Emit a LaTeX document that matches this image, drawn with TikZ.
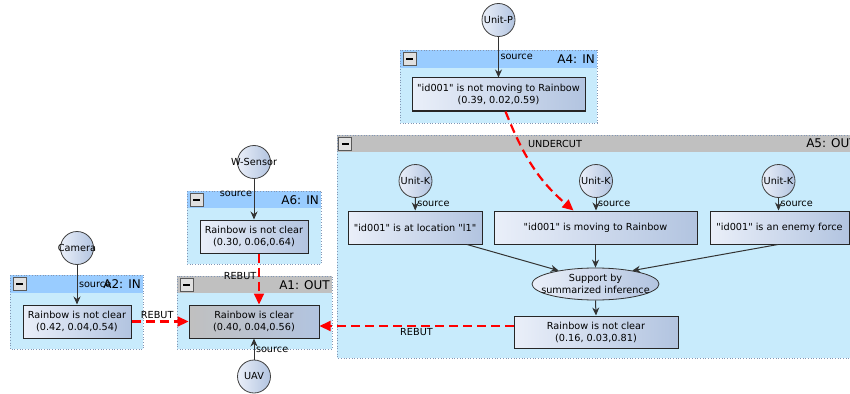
\documentclass[tikz,border=0pt]{standalone}
\usepackage{fontspec}
\setmainfont{DejaVu Sans}[Ligatures=TeXOff]
\usepackage{xcolor}
\usepackage{tikz}
\usetikzlibrary{shapes,arrows,positioning,calc,arrows.meta}

\definecolor{panelbg}{RGB}{200,235,252}
\definecolor{hdrblue}{RGB}{153,204,255}
\definecolor{hdrgray}{RGB}{192,192,192}
\definecolor{rimblue}{RGB}{130,150,180}
\definecolor{claimL}{RGB}{234,239,249}
\definecolor{claimR}{RGB}{178,196,224}
\definecolor{grayL}{RGB}{192,192,192}

\tikzset{
    every node/.style={font=\fontsize{9.7}{12}\selectfont},
    panel/.style={fill=panelbg},
    panelrim/.style={draw=rimblue, dotted, line width=0.7pt},
    hdrin/.style={fill=hdrblue},
    hdrout/.style={fill=hdrgray},
    minusbox/.style={draw=black!65, fill=black!12, line width=0.6pt, minimum width=13pt, minimum height=13pt, inner sep=0pt,
        path picture={\fill[black] ($(path picture bounding box.center)+(-3.5,-1)$) rectangle ($(path picture bounding box.center)+(3.5,1)$);}},
    paneltitle/.style={anchor=east, inner sep=1pt, font=\fontsize{12}{14}\selectfont},
    claim/.style={rectangle, draw=black!85, line width=1pt, left color=claimL, right color=claimR, align=center, minimum height=33pt, inner sep=2pt},
    agent/.style={circle, draw=black!75, line width=0.8pt, left color=claimL, right color=claimR, minimum size=33pt, inner sep=0pt},
    infer/.style={ellipse, draw=black!80, line width=0.8pt, left color=claimL, right color=claimR, minimum width=127pt, minimum height=32pt, inner sep=0pt},
    src/.style={draw=black!80, line width=1pt, -{Stealth[length=8pt,width=7pt]}},
    rebut/.style={draw=red, line width=2.2pt, dash pattern=on 9pt off 5pt, -{Triangle[length=11pt,width=10pt]}},
    edgelbl/.style={inner sep=1.5pt},
}

\begin{document}
\begin{tikzpicture}[x=1pt,y=-1pt]
    \useasboundingbox (0,0) rectangle (850,393);
    \clip (0,0) rectangle (850,393);

    % A2 panel
    \fill[panel] (10,275) rectangle (143,349);
    \fill[hdrin] (10,275) rectangle (143,293);
    \draw[panelrim] (10,275) rectangle (143,349);
    \node[minusbox] (mA2) at (19.5,284) {};
    \node[paneltitle] (tA2) at (142,284.5) {A2: IN};
    % A6 panel
    \fill[panel] (187,191) rectangle (321,264);
    \fill[hdrin] (187,191) rectangle (321,208);
    \draw[panelrim] (187,191) rectangle (321,264);
    \node[minusbox] (mA6) at (196.5,200) {};
    \node[paneltitle] (tA6) at (320,200) {A6: IN};
    % A1 panel
    \fill[panel] (177,276) rectangle (332,349);
    \fill[hdrout] (177,276) rectangle (332,293);
    \draw[panelrim] (177,276) rectangle (332,349);
    \node[minusbox] (mA1) at (186.5,285) {};
    \node[paneltitle] (tA1) at (331,285) {A1: OUT};
    % A4 panel
    \fill[panel] (400,50) rectangle (597,123);
    \fill[hdrin] (400,50) rectangle (597,68);
    \draw[panelrim] (400,50) rectangle (597,123);
    \node[minusbox] (mA4) at (409.5,59) {};
    \node[paneltitle] (tA4) at (596,59) {A4: IN};
    % A5 panel
    \fill[panel] (337,135) rectangle (862,358);
    \fill[hdrout] (337,135) rectangle (862,152);
    \draw[panelrim] (337,135) rectangle (862,358);
    \node[minusbox] (mA5) at (345,143.5) {};
    \node[paneltitle] (tA5) at (858,143.5) {A5: OUT};
    \node (ucut) at (555,143.5) {UNDERCUT};

    % claims
    \node[claim, minimum width=108pt] (a2c) at (77,321.5) {Rainbow is not clear\\(0.42, 0.04,0.54)};
    \node[claim, minimum width=108pt] (a6c) at (254,236.5) {Rainbow is not clear\\(0.30, 0.06,0.64)};
    \node[claim, minimum width=130pt, left color=grayL] (a1c) at (254,321.5) {Rainbow is clear\\(0.40, 0.04,0.56)};
    \node[claim, minimum width=173pt] (a4c) at (498.5,94.5) {"id001" is not moving to Rainbow\\(0.39, 0.02,0.59)};
    \node[claim, minimum width=134pt] (loc) at (415,227.5) {"id001" is at location "l1"};
    \node[claim, minimum width=203pt] (mov) at (595.5,227.5) {"id001" is moving to Rainbow};
    \node[claim, minimum width=139pt] (enemy) at (779.5,227.5) {"id001" is an enemy force};
    \node[infer, label={[align=center]center:Support by\\summarized inference}] (inf) at (595.5,284) {};
    \node[claim, minimum width=164pt, minimum height=32pt] (res) at (596,332) {Rainbow is not clear\\(0.16, 0.03,0.81)};

    % sources
    \node[agent, label=center:Camera] (cam) at (77,248) {};
    \node[agent, label=center:W-Sensor] (wsens) at (254,162) {};
    \node[agent, label=center:UAV] (uav) at (254,376.5) {};
    \node[agent, label=center:Unit-P] (unitp) at (498.5,20) {};
    \node[agent, label=center:Unit-K] (unitk1) at (415.5,181) {};
    \node[agent, label=center:Unit-K] (unitk2) at (596,181) {};
    \node[agent, label=center:Unit-K] (unitk3) at (778.5,181) {};

    \draw[src] (cam) -- (a2c) node[edgelbl, right, midway] {source};
    \draw[src] (wsens) -- (a6c) node[edgelbl, left, pos=0.37] {source};
    \draw[src] (uav) -- (a1c) node[edgelbl, right, pos=0.45] {source};
    \draw[src] (unitp) -- (a4c) node[edgelbl, right, midway] {source};
    \draw[src] (unitk1) -- (loc) node[edgelbl, right, midway] {source};
    \draw[src] (unitk2.south) -- (unitk2.south |- mov.north) node[edgelbl, right, midway] {source};
    \draw[src] (unitk3) -- (unitk3 |- enemy.north) node[edgelbl, right, midway] {source};

    % inference
    \draw[src] ([xshift=52pt]loc.south) -- (inf.160);
    \draw[src] (mov.south) -- (inf.north);
    \draw[src] ([xshift=-1.5pt]enemy.south) -- (inf.20);
    \draw[src] (inf.south) -- (res.north);

    % attacks
    \draw[rebut] (a2c.east) -- (a1c.west) node[edgelbl, above, pos=0.45, text=black] {REBUT};
    \draw[rebut] ([xshift=5pt]a6c.south) -- ([xshift=5pt]a1c.north) node[edgelbl, left, pos=0.44, text=black] {REBUT};
    \draw[rebut] (res.west) ++(0,-6) coordinate (r5) -- (r5 -| a1c.east) node[edgelbl, below, midway, text=black] {REBUT};
    \draw[rebut] ([xshift=7pt]a4c.south) .. controls ($(a4c.south)+(25,45)$) and ($(mov.north)+(-57,-30)$) .. ([xshift=-22pt]mov.north);
\end{tikzpicture}
\end{document}
